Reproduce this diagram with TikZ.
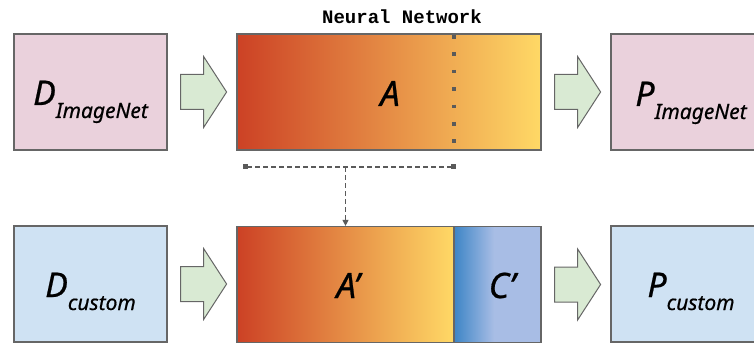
\documentclass[tikz,border=0pt]{standalone}
\usepackage{fontspec}
\setmainfont{Noto Sans}
\newfontfamily\labfam[FakeBold=0.6]{Noto Sans}
\newfontfamily\monofam{Liberation Mono}
\usetikzlibrary{calc,arrows.meta}
\definecolor{pinkfill}{RGB}{234,209,220}
\definecolor{bluefill}{RGB}{207,226,243}
\definecolor{greenfill}{RGB}{217,234,211}
\definecolor{cred}{RGB}{204,65,37}
\definecolor{cyellow}{RGB}{255,217,102}
\definecolor{cblue}{RGB}{61,133,198}
\definecolor{clight}{RGB}{168,189,229}
\definecolor{edgegray}{RGB}{102,102,102}
\definecolor{dotgray}{RGB}{90,90,90}
\pgfdeclarehorizontalshading{cshade}{100bp}{color(0bp)=(cblue); color(25bp)=(cblue); color(48bp)=(clight); color(100bp)=(clight)}
\newcommand\mainlab[2]{{\labfam\fontsize{34}{34}\selectfont\itshape #1}\raisebox{-13pt}{\labfam\fontsize{21}{21}\selectfont\itshape #2}}
\newcommand\blockarr[1]{%
  \draw[barrow] ($(#1.east)+(13,0)$) ++(0,17.5) -- ++(23,0) -- ++(0,18) -- ++(23,-35.5)
    -- ++(-23,-35.5) -- ++(0,18) -- ++(-23,0) -- cycle;}
\tikzset{
  box/.style={draw=edgegray, line width=1.2pt, rectangle, inner sep=0pt, minimum height=116pt},
  barrow/.style={draw=edgegray, line width=1pt, fill=greenfill, line join=miter},
  big/.style={font=\labfam\fontsize{35}{35}\selectfont\itshape},
  lab/.style={anchor=base, inner sep=0pt},
  dash2/.style={draw=dotgray, line width=1.2pt, dash pattern=on 5pt off 3pt},
}
\begin{document}
\begin{tikzpicture}[x=1pt,y=1pt]
\useasboundingbox (0,0) rectangle (754,343);
% top row
\node[box, fill=pinkfill, minimum width=153pt] (DI) at (90.5,251) {};
\node[box, left color=cred, right color=cyellow, minimum width=304pt] (A) at (389,251) {};
\node[lab, big] (Al) at (390,237) {A};
\node[box, fill=pinkfill, minimum width=160pt] (PI) at (691,251) {};
\node[lab] (DIl) at (90.5,238) {\mainlab{D}{ImageNet}};
\node[lab] (PIl) at (691,237) {\mainlab{P}{ImageNet}};
\node[anchor=base, inner sep=0pt, font=\monofam\bfseries\fontsize{19}{19}\selectfont] (NN) at (402,319) {Neural Network};
% dotted split inside A
\coordinate (dtop) at (454,308);
\coordinate (dbot) at (454,200);
\draw[dotgray, line width=3.8pt, dash pattern=on 3.7pt off 13.7pt] (dtop) -- (dbot);
% bottom row
\node[box, fill=bluefill, minimum width=153pt] (Dc) at (90.5,59) {};
\node[box, left color=cred, right color=cyellow, minimum width=217pt] (Ap) at (345.5,58.5) {};
\node[box, shade, shading=cshade, minimum width=87pt] (Cp) at (497.5,58.5) {};
\node[lab, big] (Apl) at (348,45) {A’};
\node[lab, big] (Cpl) at (502,45) {C’};
\node[box, fill=bluefill, minimum width=160pt] (Pc) at (691,59) {};
\node[lab] (Dcl) at (90.5,46) {\mainlab{D}{custom}};
\node[lab] (Pcl) at (691,46) {\mainlab{P}{custom}};
% block arrows
\blockarr{DI}
\blockarr{A}
\blockarr{Dc}
\blockarr{Cp}
% bracket and transfer arrow
\coordinate (bl) at (243,176);
\coordinate (br) at (456,176);
\coordinate (bm) at (345.5,176);
\draw[dash2, {Square[length=5pt,width=5pt]}-{Square[length=5pt,width=5pt]}] (bl) -- (br);
\draw[dash2, -{Triangle[length=6pt,width=6pt]}] (bm) -- (Ap.north);
\end{tikzpicture}
\end{document}
